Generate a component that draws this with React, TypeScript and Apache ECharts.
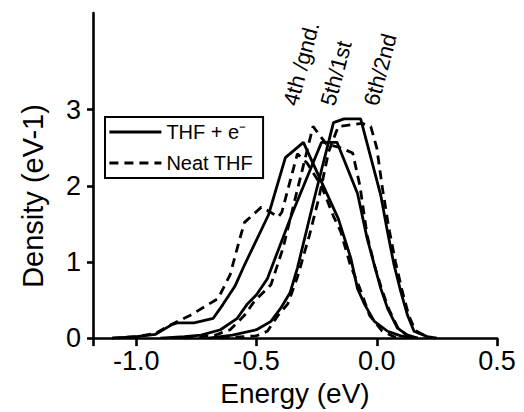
import React, { useEffect, useRef } from 'react';
import * as echarts from 'echarts';

const FONT = '"Liberation Sans", Arial, Helvetica, sans-serif';

// Tick values
const xTickValues = [-1.0, -0.5, 0.0, 0.5];
const yTickValues = [0, 1, 2, 3];

// Legend names
const solidName = 'THF + e\u207B';
const dashedName = 'Neat THF';

// 4th / gnd.
const thf4E = [-1.1, -1.0, -0.92, -0.85, -0.83, -0.76, -0.68, -0.64, -0.59, -0.55, -0.45, -0.38, -0.305, -0.16, -0.108, -0.08, -0.05, -0.01, 0.045, 0.1, 0.15];
const thf4D = [0, 0.02, 0.05, 0.18, 0.2, 0.2, 0.26, 0.44, 0.68, 0.96, 1.62, 2.37, 2.57, 1.57, 1.05, 0.65, 0.44, 0.22, 0.09, 0.03, 0];
const neat4E = [-1.1, -1.0, -0.92, -0.86, -0.775, -0.66, -0.61, -0.57, -0.55, -0.48, -0.45, -0.41, -0.395, -0.33, -0.29, -0.23, -0.18, -0.15, -0.11, -0.07, -0.03, 0.02, 0.07, 0.1];
const neat4D = [0, 0.02, 0.06, 0.17, 0.3, 0.52, 0.83, 1.3, 1.52, 1.72, 1.67, 1.59, 1.65, 2.42, 2.3, 2.0, 1.6, 1.4, 0.96, 0.65, 0.3, 0.1, 0.02, 0];

// 5th / 1st
const thf5E = [-0.9, -0.8, -0.73, -0.65, -0.58, -0.54, -0.5, -0.455, -0.35, -0.23, -0.165, -0.08, -0.04, -0.01, 0.017, 0.045, 0.086, 0.128, 0.17];
const thf5D = [0, 0.02, 0.04, 0.11, 0.26, 0.44, 0.57, 0.78, 1.65, 2.57, 2.57, 1.9, 1.31, 0.96, 0.65, 0.39, 0.13, 0.04, 0];
const neat5E = [-0.8, -0.68, -0.61, -0.55, -0.51, -0.44, -0.39, -0.33, -0.265, -0.21, -0.15, -0.1, -0.07, -0.04, -0.01, 0.02, 0.05, 0.09, 0.13, 0.17];
const neat5D = [0, 0.03, 0.11, 0.3, 0.48, 0.7, 1.18, 1.95, 2.78, 2.55, 2.5, 2.43, 2.0, 1.35, 0.96, 0.65, 0.38, 0.12, 0.03, 0];

// 6th / 2nd
const thf6E = [-0.7, -0.6, -0.5, -0.44, -0.4, -0.36, -0.33, -0.29, -0.26, -0.18, -0.136, -0.067, 0.017, 0.045, 0.072, 0.1, 0.128, 0.155, 0.21, 0.25];
const thf6D = [0, 0.04, 0.11, 0.22, 0.39, 0.6, 0.92, 1.44, 1.83, 2.83, 2.88, 2.88, 1.87, 1.39, 0.96, 0.61, 0.3, 0.09, 0.02, 0];
const neat6E = [-0.65, -0.5, -0.455, -0.41, -0.37, -0.33, -0.28, -0.24, -0.2, -0.16, -0.06, -0.025, 0.0, 0.024, 0.05, 0.078, 0.105, 0.133, 0.16, 0.22];
const neat6D = [0, 0.03, 0.09, 0.3, 0.45, 0.8, 1.35, 1.85, 2.45, 2.78, 2.82, 2.78, 2.5, 1.96, 1.45, 1.0, 0.63, 0.3, 0.1, 0];

// Peak annotations (text and data anchor)
const peakLabels = ['4th /gnd.', '5th/1st', '6th/2nd'];
const peakLabelE = [-0.36, -0.205, -0.025];
const peakLabelD = [3.06, 3.06, 3.06];

const zip = (e: number[], d: number[]) => e.map((v, i) => [v, d[i]]);

export default function App() {
  const ref = useRef<HTMLDivElement>(null);

  useEffect(() => {
    if (!ref.current) return;
    const chart = echarts.init(ref.current, undefined, { renderer: 'svg' });
    const solid = { color: '#000', width: 2.8, type: 'solid' as const };
    const dashed = { color: '#000', width: 2.8, type: [9, 6] as any };
    const mk = (name: string, data: number[][], ls: any) => ({
      type: 'line',
      name,
      data,
      symbol: 'none',
      showSymbol: false,
      lineStyle: ls,
      itemStyle: { color: '#000' },
      silent: true,
    });
    const axisLineStyle = { color: '#000', width: 2.6 };
    chart.setOption({
      animation: false,
      textStyle: { fontFamily: FONT },
      grid: { left: 93, right: 27, top: 13, bottom: 72, containLabel: false },
      legend: {
        data: [solidName, dashedName],
        left: 105,
        top: 117,
        orient: 'vertical',
        borderColor: '#000',
        borderWidth: 2,
        padding: [5, 10, 5, 3],
        itemWidth: 52,
        itemHeight: 14,
        itemGap: 11,
        selectedMode: false,
        itemStyle: { opacity: 0 },
        lineStyle: { width: 2.8 },
        textStyle: { fontSize: 20, fontFamily: FONT, color: '#000' },
      },
      xAxis: {
        type: 'value',
        min: -1.18,
        max: 0.5,
        axisLine: { show: true, onZero: false, lineStyle: axisLineStyle },
        axisTick: { show: true, inside: false, length: 8, lineStyle: axisLineStyle, customValues: [-1.18, ...xTickValues] },
        axisLabel: {
          customValues: xTickValues,
          formatter: (v: number) => v.toFixed(1),
          fontSize: 27,
          color: '#000',
          fontFamily: FONT,
          margin: 9,
        },
        splitLine: { show: false },
        name: 'Energy (eV)',
        nameLocation: 'middle',
        nameGap: 40,
        nameTextStyle: { fontSize: 28, color: '#000', fontFamily: FONT },
      },
      yAxis: {
        type: 'value',
        min: 0,
        max: 4.27,
        axisLine: { show: true, onZero: false, lineStyle: axisLineStyle },
        axisTick: { show: true, inside: false, length: 6, lineStyle: axisLineStyle, customValues: yTickValues },
        axisLabel: {
          customValues: yTickValues,
          fontSize: 27,
          color: '#000',
          fontFamily: FONT,
          margin: 12,
        },
        splitLine: { show: false },
      },
      series: [
        mk(solidName, zip(thf4E, thf4D), solid),
        mk(dashedName, zip(neat4E, neat4D), dashed),
        mk(solidName, zip(thf5E, thf5D), solid),
        mk(dashedName, zip(neat5E, neat5D), dashed),
        mk(solidName, zip(thf6E, thf6D), solid),
        mk(dashedName, zip(neat6E, neat6D), dashed),
      ],
    });

    const graphics: any[] = peakLabels.map((t, i) => {
      const p = chart.convertToPixel({ xAxisIndex: 0, yAxisIndex: 0 }, [peakLabelE[i], peakLabelD[i]]) as number[];
      return {
        type: 'text',
        x: p[0],
        y: p[1],
        rotation: (75 * Math.PI) / 180,
        style: {
          text: t,
          fontSize: 22,
          fontFamily: FONT,
          fill: '#000',
          textAlign: 'left',
          textVerticalAlign: 'middle',
        },
      };
    });
    graphics.push({
      type: 'text',
      x: 33,
      y: 196,
      rotation: Math.PI / 2,
      style: {
        text: 'Density (eV-1)',
        fontSize: 29,
        fontFamily: FONT,
        fill: '#000',
        textAlign: 'center',
        textVerticalAlign: 'middle',
      },
    });
    chart.setOption({ graphic: graphics });

    return () => chart.dispose();
  }, []);

  return <div ref={ref} style={{ position: 'absolute', left: 0, top: 0, width: 524, height: 412 }} />;
}
